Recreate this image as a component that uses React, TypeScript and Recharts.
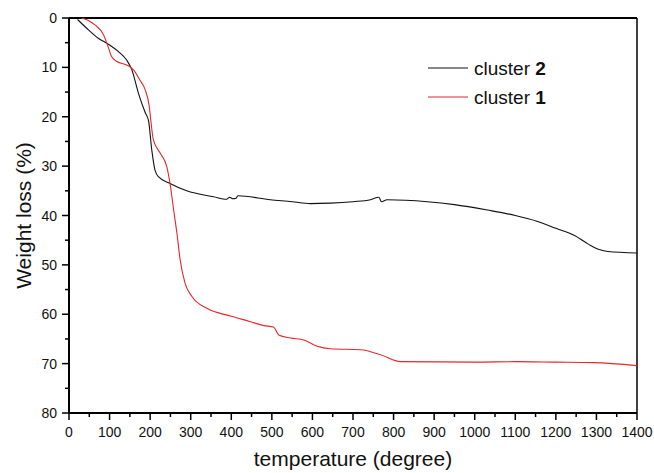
import React from 'react';
import { LineChart, Line, XAxis, YAxis, ReferenceLine } from 'recharts';

const cluster2Temp = [21, 48, 72, 97, 122, 142, 155, 171, 188, 196, 204, 212, 221, 249, 290, 356, 389, 396, 404, 412, 416, 496, 550, 595, 644, 700, 743, 764, 770, 784, 883, 950, 1031, 1100, 1155, 1200, 1245, 1280, 1303, 1328, 1400];
const cluster2Loss = [0.3, 2.4, 4.1, 5.3, 6.8, 8.5, 10.5, 15.2, 19.2, 20.8, 26.7, 30.8, 32.2, 33.5, 35, 36.2, 36.7, 36.3, 36.6, 36.5, 36.0, 36.8, 37.2, 37.6, 37.5, 37.2, 36.8, 36.3, 37.2, 36.8, 37.2, 37.8, 38.9, 40, 41.2, 42.6, 44, 45.8, 46.8, 47.3, 47.6];

const cluster1Temp = [31, 50, 64, 85, 95, 105, 118, 142, 159, 175, 188, 198, 202, 208, 225, 241, 249, 258, 266, 274, 286, 303, 340, 400, 447, 480, 504, 517, 546, 579, 612, 644, 719, 768, 817, 1000, 1100, 1200, 1294, 1400];
const cluster1Loss = [0, 0.6, 1.4, 3.4, 5.5, 7.8, 8.8, 9.5, 10.5, 12.6, 14.6, 18, 21, 24.7, 27.4, 30.1, 33.5, 38.9, 43.6, 49, 53.7, 56.4, 58.8, 60.4, 61.5, 62.3, 62.6, 64.2, 64.8, 65.2, 66.5, 67, 67.2, 68.2, 69.6, 69.7, 69.6, 69.7, 69.8, 70.4];

const xTicks = [0, 50, 100, 150, 200, 250, 300, 350, 400, 450, 500, 550, 600, 650, 700, 750, 800, 850, 900, 950, 1000, 1050, 1100, 1150, 1200, 1250, 1300, 1350, 1400];
const yTicks = [0, 5, 10, 15, 20, 25, 30, 35, 40, 45, 50, 55, 60, 65, 70, 75, 80];

const FONT = '"Liberation Sans", Arial, sans-serif';

const cluster2 = cluster2Temp.map((t, i) => ({ temp: t, loss: cluster2Loss[i] }));
const cluster1 = cluster1Temp.map((t, i) => ({ temp: t, loss: cluster1Loss[i] }));

const XTick = (props: any) => {
  const { x, y, payload } = props;
  const major = payload.value % 100 === 0;
  return (
    <g>
      <line x1={x} y1={y} x2={x} y2={y + (major ? 7 : 4)} stroke="#000" strokeWidth={1.5} />
      {major && (
        <text x={x} y={y + 24} textAnchor="middle" fontSize={14} fontFamily={FONT} fill="#111">
          {payload.value}
        </text>
      )}
    </g>
  );
};

const YTick = (props: any) => {
  const { x, y, payload } = props;
  const major = payload.value % 10 === 0;
  return (
    <g>
      <line x1={x} y1={y} x2={x - (major ? 7 : 4)} y2={y} stroke="#000" strokeWidth={1.5} />
      {major && (
        <text x={x - 12} y={y + 5} textAnchor="end" fontSize={14} fontFamily={FONT} fill="#111">
          {payload.value}
        </text>
      )}
    </g>
  );
};

const legendItems = [
  { name: 'cluster ', bold: '2', color: '#111' },
  { name: 'cluster ', bold: '1', color: '#e8262a' },
];

// legend drawn as an overlay so it does not take space from the plot
const LegendBox = () => (
  <svg width={150} height={60} style={{ position: 'absolute', left: 428, top: 58 }}>
    {legendItems.map((it, i) => (
      <g key={i}>
        <line x1={0} y1={10 + i * 29} x2={40} y2={10 + i * 29} stroke={it.color} strokeWidth={1.2} />
        <text x={46} y={17 + i * 29} fontSize={19} fontFamily={FONT} fill="#111">
          {it.name}
          <tspan fontWeight="bold">{it.bold}</tspan>
        </text>
      </g>
    ))}
  </svg>
);

export default function App() {
  return (
    <div style={{ position: 'absolute', left: 0, top: 0, width: 654, height: 473, background: '#fff' }}>
      <LineChart width={654} height={473} margin={{ top: 18, right: 17, left: 0, bottom: 0 }}>
        <XAxis
          dataKey="temp"
          type="number"
          domain={[0, 1400]}
          ticks={xTicks}
          interval={0}
          tickSize={0}
          tickMargin={0}
          tick={<XTick />}
          height={60}
          axisLine={{ stroke: '#000', strokeWidth: 2 }}
          allowDataOverflow
          label={{
            content: (p: any) => {
              const vb = p.viewBox;
              return (
                <text x={vb.x + vb.width / 2} y={vb.y + 53} textAnchor="middle" fontSize={21} fontFamily={FONT} fill="#111">
                  temperature (degree)
                </text>
              );
            },
          }}
        />
        <YAxis
          dataKey="loss"
          type="number"
          domain={[0, 80]}
          reversed
          ticks={yTicks}
          interval={0}
          tickSize={0}
          tickMargin={0}
          tick={<YTick />}
          width={69}
          axisLine={{ stroke: '#000', strokeWidth: 2 }}
          allowDataOverflow
          label={{
            content: (p: any) => {
              const vb = p.viewBox;
              const cx = vb.x + 31;
              const cy = vb.y + vb.height / 2;
              return (
                <text x={cx} y={cy} transform={`rotate(-90 ${cx} ${cy})`} textAnchor="middle" fontSize={21} fontFamily={FONT} fill="#111">
                  Weight loss (%)
                </text>
              );
            },
          }}
        />
        <ReferenceLine y={0} stroke="#000" strokeWidth={2} />
        <ReferenceLine x={1400} stroke="#000" strokeWidth={1.5} />
        <Line data={cluster2} dataKey="loss" name="cluster 2" type="monotone" stroke="#111" strokeWidth={1.1} dot={false} isAnimationActive={false} />
        <Line data={cluster1} dataKey="loss" name="cluster 1" type="monotone" stroke="#e8262a" strokeWidth={1.1} dot={false} isAnimationActive={false} />
      </LineChart>
      <LegendBox />
    </div>
  );
}
